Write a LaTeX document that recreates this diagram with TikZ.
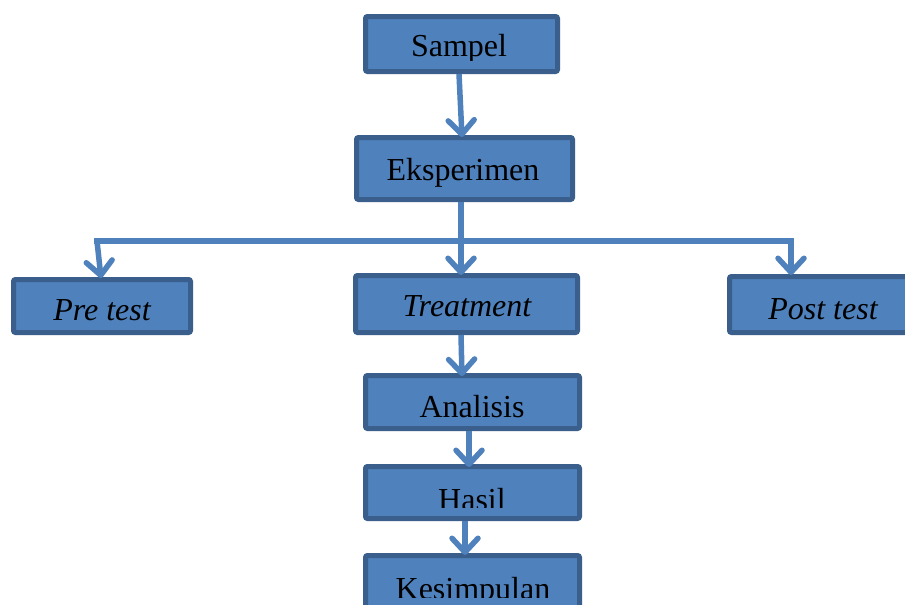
\documentclass[tikz,border=0pt]{standalone}
\usepackage{fontspec}
\setmainfont{Liberation Serif}
\usetikzlibrary{arrows.meta}
\definecolor{boxfill}{HTML}{4F81BD}
\definecolor{boxline}{HTML}{3A5F8C}
\definecolor{arrcol}{HTML}{4F81BD}
\tikzset{
  fbox/.style={draw=boxline, fill=boxfill, line width=5pt, rounded corners=2pt, inner sep=0pt},
  lbl/.style={anchor=base, inner sep=0pt, font=\fontsize{32}{36}\selectfont, text=black},
  conn/.style={draw=arrcol, line width=5.5pt},
  arr/.style={conn, -{Straight Barb[length=14pt,width=26pt,round]}},
}
\begin{document}
\begin{tikzpicture}[x=1pt,y=-1pt]
\clip (0,0) rectangle (905,605);
\fill[white] (0,0) rectangle (905,605);
% boxes
\node[fbox, minimum width=192pt, minimum height=55pt] (sampel) at (461.5,44) {};
\node[fbox, minimum width=216pt, minimum height=62pt] (eks) at (464.5,168.5) {};
\node[fbox, minimum width=177pt, minimum height=53pt] (pre) at (102,306) {};
\node[fbox, minimum width=222pt, minimum height=57pt] (treat) at (466.5,304) {};
\node[fbox, minimum width=178pt, minimum height=56pt] (post) at (818.5,304.5) {};
\node[fbox, minimum width=214pt, minimum height=53pt] (anal) at (472.5,402) {};
\node[fbox, minimum width=214pt, minimum height=52pt] (hasil) at (472.5,492.5) {};
\node[fbox, minimum width=214pt, minimum height=57pt] (kes) at (472.5,584) {};
% labels
\begin{scope}
\clip (300,20) rectangle (620,60);
\node[lbl] (tsampel) at (459,56) {Sampel};
\end{scope}
\node[lbl] (teks) at (463,180) {Eksperimen};
\node[lbl] (tpre) at (102,320) {\itshape Pre test};
\node[lbl] (ttreat) at (467,316) {\itshape Treatment};
\node[lbl] (tpost) at (823,319) {\itshape Post test};
\node[lbl] (tanal) at (472,417) {Analisis};
\begin{scope}
\clip (300,470) rectangle (620,507);
\node[lbl] (thasil) at (472,510) {Hasil};
\end{scope}
\begin{scope}
\clip (300,560) rectangle (620,597);
\node[lbl] (tkes) at (473,599) {Kesimpulan};
\end{scope}
% connectors
\coordinate (brL) at (97,241);
\coordinate (brR) at (791,241);
\draw[conn, line cap=rect] (brL) -- (brR);
\draw[arr] (brL) -- ([xshift=-1pt,yshift=-1pt]pre.north);
\draw[arr] (brR) -- ([xshift=-27.5pt,yshift=-1pt]post.north);
\draw[arr] ([xshift=-2.5pt]sampel.south) -- ([xshift=-2.5pt,yshift=-2pt]eks.north);
\draw[arr] ([xshift=-3.5pt]eks.south) -- ([xshift=-5.5pt,yshift=-2pt]treat.north);
\draw[arr] ([xshift=-5.5pt]treat.south) -- ([xshift=-10.5pt,yshift=-3pt]anal.north);
\draw[arr] ([xshift=-3.5pt]anal.south) -- ([xshift=-3.5pt,yshift=-3pt]hasil.north);
\draw[arr] ([xshift=-7.5pt]hasil.south) -- ([xshift=-7.5pt,yshift=-2pt]kes.north);
\end{tikzpicture}
\end{document}
